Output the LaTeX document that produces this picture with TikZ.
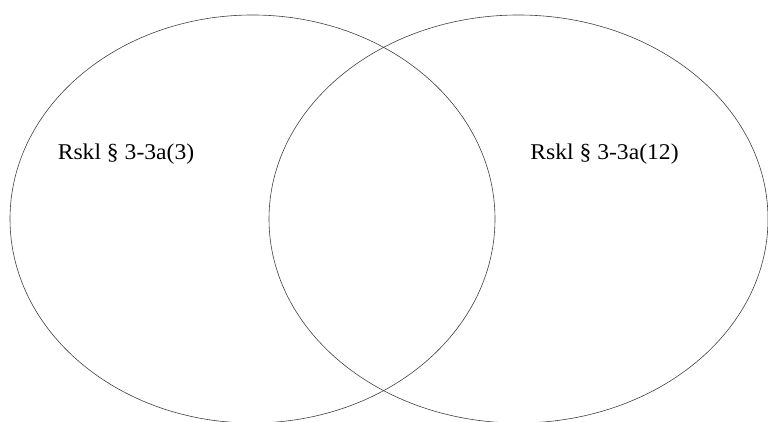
\documentclass[tikz,border=0pt]{standalone}
\usepackage{fontspec}
\setmainfont{Liberation Serif}
\usetikzlibrary{shapes.geometric}
\begin{document}
\begin{tikzpicture}[x=1pt,y=1pt,
  setellipse/.style={draw=black!75, line width=0.6pt, ellipse, inner sep=0pt, minimum height=408pt},
  setlabel/.style={anchor=base, inner sep=0pt, font=\fontsize{22.5}{26}\selectfont}]
\useasboundingbox (0,0) rectangle (768,422);
\node[setellipse, minimum width=485pt] (left) at (252.5,203) {};
\node[setellipse, minimum width=499pt] (right) at (518.5,203) {};
\node[setlabel] (ltext) at (126,262) {\scalebox{1.05}[1]{Rskl § 3-3a(3)}};
\node[setlabel] (rtext) at (604.5,262) {\scalebox{1.05}[1]{Rskl § 3-3a(12)}};
\end{tikzpicture}
\end{document}
